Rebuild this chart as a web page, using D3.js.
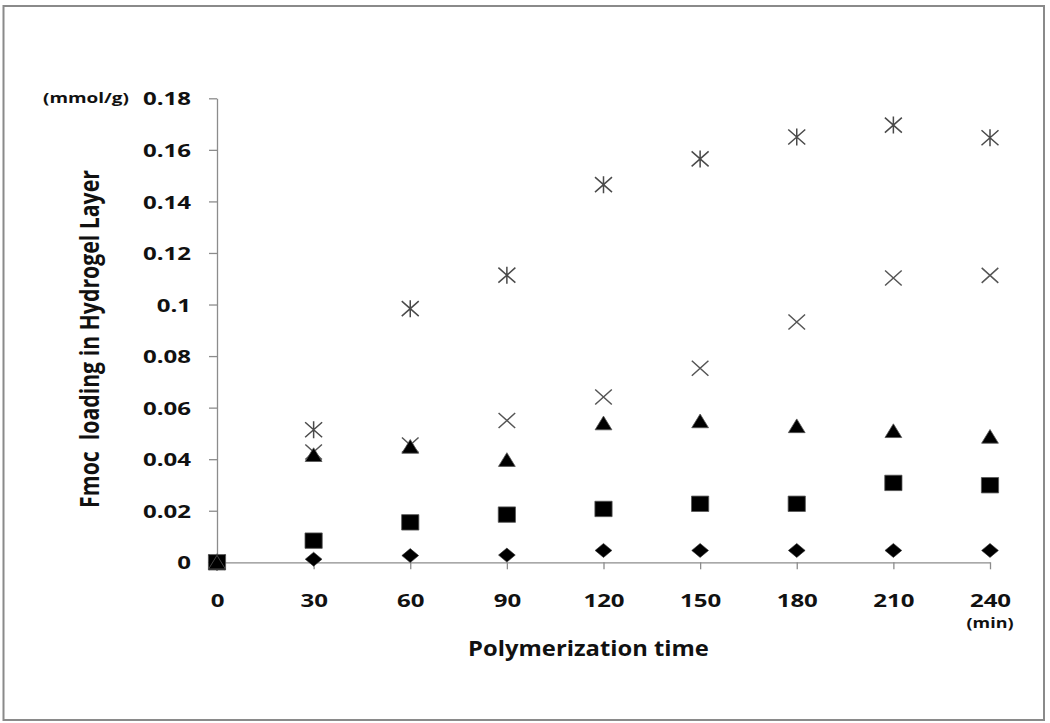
<!DOCTYPE html>
<html>
<head>
<meta charset="utf-8">
<script src="https://cdn.jsdelivr.net/npm/d3@7"></script>
<style>
  html, body { margin: 0; padding: 0; background: #ffffff; }
  svg { display: block; }
  text { font-family: "Open Sans", "DejaVu Sans", sans-serif; font-weight: 700; fill: #111; }
</style>
</head>
<body>
<svg id="chart" width="1050" height="723"></svg>
<script>
// ---- data ----
const times = [0, 30, 60, 90, 120, 150, 180, 210, 240];
const seriesDiamond  = [0, 0.0012, 0.0026, 0.0028, 0.0046, 0.0046, 0.0046, 0.0046, 0.0046];
const seriesSquare   = [0, 0.0084, 0.0155, 0.0185, 0.0207, 0.0227, 0.0227, 0.0308, 0.0299];
const seriesTriangle = [0, 0.0417, 0.0449, 0.0398, 0.0540, 0.0548, 0.0529, 0.0510, 0.0488];
const seriesCross    = [0, 0.0428, 0.0455, 0.0550, 0.0641, 0.0753, 0.0932, 0.1103, 0.1113];
const seriesAsterisk = [0, 0.0514, 0.0984, 0.1114, 0.1465, 0.1565, 0.1650, 0.1696, 0.1647];
const xTickValues = [0, 30, 60, 90, 120, 150, 180, 210, 240];
const yTickValues = [0, 0.02, 0.04, 0.06, 0.08, 0.1, 0.12, 0.14, 0.16, 0.18];
const yTickLabels = ["0", "0.02", "0.04", "0.06", "0.08", "0.1", "0.12", "0.14", "0.16", "0.18"];
const xTitle = "Polymerization time";
const yTitle = "Fmoc\u00a0 loading in Hydrogel Layer";
const yUnit = "(mmol/g)";
const xUnit = "(min)";

// ---- layout ----
const svg = d3.select("#chart");
const axisColor = "#8c8c8c";
const x = d3.scaleLinear().domain([0, 240]).range([217, 990]);
const y = d3.scaleLinear().domain([0, 0.18]).range([562.3, 98.3]);

// outer frame
svg.append("rect")
  .attr("x", 3.5).attr("y", 6).attr("width", 1040.5).attr("height", 714)
  .attr("fill", "none").attr("stroke", "#8a8a8a").attr("stroke-width", 2);

const stretch = 1.3;

// y axis
const gy = svg.append("g").attr("transform", `translate(${x(0)},0)`)
  .call(d3.axisLeft(y).tickValues(yTickValues)
    .tickFormat((d, i) => yTickLabels[i]).tickSize(8).tickSizeOuter(0));
gy.select(".domain").attr("stroke", axisColor).attr("stroke-width", 1.3);
gy.selectAll(".tick line").attr("stroke", axisColor).attr("stroke-width", 1.3);
gy.selectAll(".tick text")
  .attr("x", 0).attr("dy", "0.357em")
  .attr("text-anchor", "end")
  .attr("transform", `translate(-26,0) scale(${stretch},1)`)
  .style("font-size", "18.5px").attr("fill", "#111");

// x axis
const gx = svg.append("g").attr("transform", `translate(0,${y(0)})`)
  .call(d3.axisBottom(x).tickValues(xTickValues).tickSize(7).tickSizeOuter(0));
gx.select(".domain").attr("stroke", axisColor).attr("stroke-width", 1.3);
gx.selectAll(".tick line").attr("stroke", axisColor).attr("stroke-width", 1.3);
gx.selectAll(".tick text")
  .attr("y", 0).attr("dy", 0)
  .attr("text-anchor", "middle")
  .attr("transform", `translate(0,45) scale(${stretch},1)`)
  .style("font-size", "18.5px").attr("fill", "#111");

// helper: place text and stretch it to a target width
function fitText(g, str, size, target, cross) {
  const t = g.append("text").text(str).style("font-size", size + "px").attr("text-anchor", "middle");
  const len = t.node().getComputedTextLength();
  t.attr("transform", `scale(${target / len},${cross})`);
  return t;
}

// x title
fitText(svg.append("g").attr("transform", "translate(588.5,656)"), xTitle, 21.5, 241, 1);
// x unit
fitText(svg.append("g").attr("transform", "translate(990,628)"), xUnit, 15, 47, 1);
// y unit
fitText(svg.append("g").attr("transform", "translate(86,103)"), yUnit, 15, 86, 1);
// y title (rotated)
fitText(svg.append("g").attr("transform", "translate(99,339) rotate(-90)"), yTitle, 20, 338, 1.3);

// ---- markers ----
const pts = s => times.map((t, i) => ({ t, v: s[i] }));
const plot = svg.append("g");

// asterisk
plot.append("g").selectAll("path").data(pts(seriesAsterisk)).join("path")
  .attr("transform", d => `translate(${x(d.t)},${y(d.v)})`)
  .attr("d", "M-8.5,-7.5L8.5,7.5M-8.5,7.5L8.5,-7.5M0,-8.5L0,8.5")
  .attr("fill", "none").attr("stroke", "#4a4a4a").attr("stroke-width", 1.5);

// cross
plot.append("g").selectAll("path").data(pts(seriesCross)).join("path")
  .attr("transform", d => `translate(${x(d.t)},${y(d.v)})`)
  .attr("d", "M-8.3,-7.5L8.3,7.5M-8.3,7.5L8.3,-7.5")
  .attr("fill", "none").attr("stroke", "#555").attr("stroke-width", 1.5);

// diamond
plot.append("g").selectAll("path").data(pts(seriesDiamond)).join("path")
  .attr("transform", d => `translate(${x(d.t)},${y(d.v)})`)
  .attr("d", "M0,-7L8.4,0L0,7L-8.4,0Z")
  .attr("fill", "#000").attr("stroke", "#333").attr("stroke-width", 0.6);

// square
plot.append("g").selectAll("path").data(pts(seriesSquare)).join("path")
  .attr("transform", d => `translate(${x(d.t)},${y(d.v)})`)
  .attr("d", "M-8.6,-7.7L8.6,-7.7L8.6,7.7L-8.6,7.7Z")
  .attr("fill", "#000").attr("stroke", "#555").attr("stroke-width", 0.8);

// triangle
plot.append("g").selectAll("path").data(pts(seriesTriangle)).join("path")
  .attr("transform", d => `translate(${x(d.t)},${y(d.v)})`)
  .attr("d", "M0,-7L8.4,6.7L-8.4,6.7Z")
  .attr("fill", "#000").attr("stroke", "#555").attr("stroke-width", 0.8);
</script>
</body>
</html>
